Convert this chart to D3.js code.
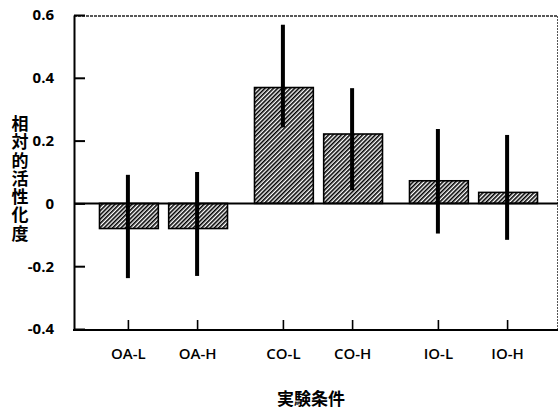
<!DOCTYPE html>
<html><head><meta charset="utf-8">
<script src="https://cdn.jsdelivr.net/npm/d3@7"></script>
<style>
html,body{margin:0;padding:0;background:#fff;}
text{font-family:"Open Sans","Noto Sans CJK JP",sans-serif;fill:#000;}
</style></head>
<body><svg id="chart" width="559" height="412"></svg>
<script>
const groups = ["OA","CO","IO"];
const levels = ["L","H"];
const categories = ["OA-L","OA-H","CO-L","CO-H","IO-L","IO-H"];
const values   = [-0.08, -0.08, 0.369, 0.221, 0.072, 0.035];
const errUpper = [0.091, 0.100, 0.569, 0.367, 0.237, 0.218];
const errLower = [-0.238, -0.231, 0.242, 0.042, -0.096, -0.116];
const yTicks = [-0.4,-0.2,0,0.2,0.4,0.6];
const yTitle = "相対的活性化度";
const xTitle = "実験条件";

const data = categories.map((c,i)=>({cat:c, group:c.split("-")[0], level:c.split("-")[1], v:values[i], hi:errUpper[i], lo:errLower[i]}));

const svg = d3.select("#chart");
const L = 74, R = 558, T = 15, B = 329;
const y = d3.scaleLinear().domain([-0.4,0.6]).range([B,T]);
const xg = d3.scalePoint().domain(groups).range([163.5,473.5]);
const xi = d3.scaleBand().domain(levels).range([-64,64]).paddingInner(0.15);
const xc = d => xg(d.group) + xi(d.level) + xi.bandwidth()/2 - 1;

const defs = svg.append("defs");
const pat = defs.append("pattern").attr("id","hatch").attr("patternUnits","userSpaceOnUse")
  .attr("width",3).attr("height",3).attr("patternTransform","rotate(45)");
pat.append("rect").attr("width",3).attr("height",3).attr("fill","#fff");
pat.append("line").attr("x1",0.8).attr("y1",0).attr("x2",0.8).attr("y2",3)
  .attr("stroke","#000").attr("stroke-width",1.6);

// frame
svg.append("line").attr("x1",L).attr("x2",R).attr("y1",T+1).attr("y2",T+1).attr("stroke","#222").attr("stroke-width",1.6).attr("stroke-dasharray","3,1");
svg.append("line").attr("x1",R-0.5).attr("x2",R-0.5).attr("y1",T+1).attr("y2",B+1).attr("stroke","#555").attr("stroke-width",1).attr("stroke-dasharray","2,1");

// bars
svg.selectAll("rect.bar").data(data).enter().append("rect").attr("class","bar")
  .attr("x", d=>xg(d.group)+xi(d.level))
  .attr("width", xi.bandwidth())
  .attr("y", d=>Math.min(y(d.v),y(0)))
  .attr("height", d=>Math.abs(y(d.v)-y(0)))
  .attr("fill","url(#hatch)").attr("stroke","#000").attr("stroke-width",1.6);

// zero line
svg.append("line").attr("x1",L).attr("x2",R).attr("y1",y(0)).attr("y2",y(0)).attr("stroke","#000").attr("stroke-width",2);

// error bars
svg.selectAll("line.err").data(data).enter().append("line").attr("class","err")
  .attr("x1",xc).attr("x2",xc).attr("y1",d=>y(d.hi)).attr("y2",d=>y(d.lo))
  .attr("stroke","#000").attr("stroke-width",4);

// y axis
const yAxis = d3.axisLeft(y).tickValues(yTicks).tickSizeInner(-11).tickSizeOuter(0).tickPadding(20)
  .tickFormat(d => d===0 ? "0" : d.toFixed(1));
const ga = svg.append("g").attr("transform",`translate(${L},0)`).call(yAxis);
ga.select(".domain").attr("stroke","#000").attr("stroke-width",2);
ga.selectAll(".tick line").attr("stroke","#000").attr("stroke-width",2);
ga.selectAll(".tick text").attr("font-size",15).attr("font-weight",700).attr("font-family","Open Sans");

// x axis
const xAxis = d3.axisBottom(d3.scaleOrdinal().domain(categories).range(data.map(xc)))
  .tickSizeInner(-10).tickSizeOuter(0).tickPadding(18);
const gx = svg.append("g").attr("transform",`translate(0,${B+1})`).call(xAxis);
gx.select(".domain").remove();
svg.append("line").attr("x1",L-1).attr("x2",R).attr("y1",B+1).attr("y2",B+1).attr("stroke","#000").attr("stroke-width",2);
gx.selectAll(".tick line").attr("stroke","#000").attr("stroke-width",1.6);
gx.selectAll(".tick text").attr("font-size",15).attr("font-weight",600).attr("font-family","Open Sans");

// y title (vertical writing)
svg.append("text").attr("x",19).attr("y",115)
  .attr("writing-mode","vertical-rl").style("text-orientation","upright")
  .attr("letter-spacing",1.3)
  .attr("font-size",17).attr("font-weight",700)
  .attr("font-family","Noto Sans CJK JP").text(yTitle);

// x title
svg.append("text").attr("x",311).attr("y",405).attr("text-anchor","middle")
  .attr("font-size",17).attr("font-weight",700).attr("font-family","Noto Sans CJK JP").text(xTitle);
</script></body></html>
